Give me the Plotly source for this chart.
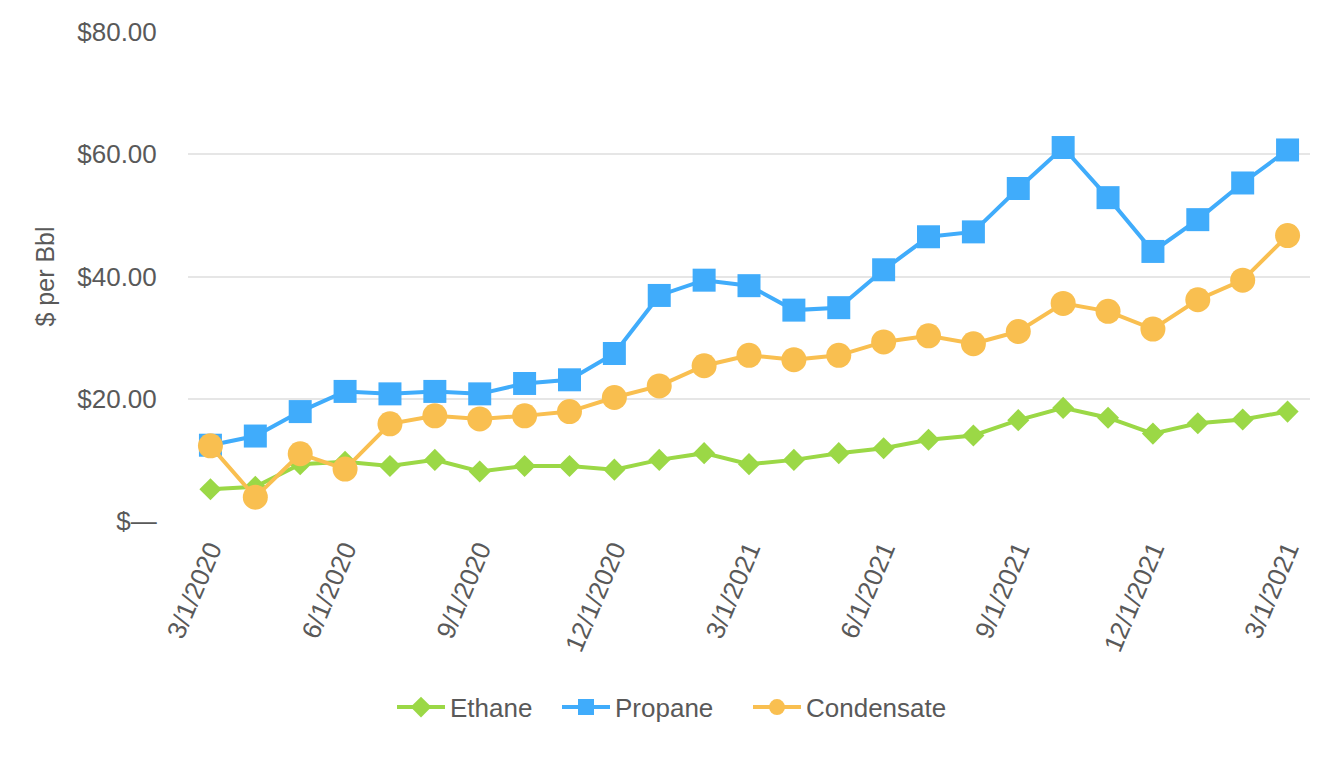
import plotly.graph_objects as go

months = ["3/1/2020", "4/1/2020", "5/1/2020", "6/1/2020", "7/1/2020", "8/1/2020",
          "9/1/2020", "10/1/2020", "11/1/2020", "12/1/2020", "1/1/2021", "2/1/2021",
          "3/1/2021", "4/1/2021", "5/1/2021", "6/1/2021", "7/1/2021", "8/1/2021",
          "9/1/2021", "10/1/2021", "11/1/2021", "12/1/2021", "1/1/2022", "2/1/2022",
          "3/1/2022"]

ethane = [5.2, 5.6, 9.3, 9.7, 9.0, 10.0, 8.1, 9.0, 9.0, 8.4, 10.0, 11.1,
          9.3, 10.0, 11.1, 11.9, 13.3, 14.0, 16.5, 18.5, 16.9, 14.3, 16.0, 16.6, 17.9]
propane = [12.4, 13.9, 17.9, 21.2, 20.8, 21.2, 20.8, 22.5, 23.1, 27.4, 36.9, 39.4,
           38.5, 34.5, 34.9, 41.1, 46.5, 47.3, 54.4, 61.1, 52.9, 44.1, 49.3, 55.3, 60.7]
condensate = [12.3, 3.9, 11.0, 8.5, 15.9, 17.2, 16.7, 17.2, 17.9, 20.2, 22.1, 25.4,
              27.1, 26.4, 27.1, 29.3, 30.3, 29.0, 31.0, 35.6, 34.3, 31.4, 36.2, 39.4, 46.7]

x_tick_vals = ["3/1/2020", "6/1/2020", "9/1/2020", "12/1/2020", "3/1/2021",
               "6/1/2021", "9/1/2021", "12/1/2021", "3/1/2022"]
x_tick_labels = ["3/1/2020", "6/1/2020", "9/1/2020", "12/1/2020", "3/1/2021",
                 "6/1/2021", "9/1/2021", "12/1/2021", "3/1/2021"]
y_tick_vals = [0, 20, 40, 60, 80]
y_tick_labels = ["$—", "$20.00", "$40.00", "$60.00", "$80.00"]

FONT = "Liberation Sans, Arial, Helvetica, sans-serif"
GRAY = "#595959"

fig = go.Figure()
fig.add_trace(go.Scatter(x=months, y=ethane, name="Ethane", mode="lines+markers",
                         legend="legend",
                         line=dict(color="#9bd846", width=4),
                         marker=dict(symbol="diamond", size=17, color="#9bd846")))
fig.add_trace(go.Scatter(x=months, y=propane, name="Propane", mode="lines+markers",
                         legend="legend2",
                         line=dict(color="#40acfb", width=4),
                         marker=dict(symbol="square", size=23, color="#40acfb")))
fig.add_trace(go.Scatter(x=months, y=condensate, name="Condensate", mode="lines+markers",
                         legend="legend3",
                         line=dict(color="#f9bf50", width=4),
                         marker=dict(symbol="circle", size=25, color="#f9bf50")))

def leg(x):
    return dict(orientation="h", xref="container", yref="container",
                x=x, xanchor="left", y=0.080, yanchor="middle",
                font=dict(size=26, color=GRAY), itemwidth=48,
                bgcolor="rgba(0,0,0,0)")

fig.update_layout(
    width=1340, height=760,
    paper_bgcolor="white", plot_bgcolor="white",
    margin=dict(l=180, r=38, t=24, b=247, autoexpand=False),
    font=dict(family=FONT, size=26, color=GRAY),
    showlegend=True,
    legend=leg(384 / 1340),
    legend2=leg(549 / 1340),
    legend3=leg(740 / 1340),
    xaxis=dict(type="category", categoryorder="array", categoryarray=months,
               range=[-0.5, len(months) - 0.5],
               tickmode="array", tickvals=x_tick_vals, ticktext=x_tick_labels,
               tickangle=-67, showgrid=False, showline=False, zeroline=False,
               ticks="outside", ticklen=2, tickcolor="rgba(0,0,0,0)",
               tickfont=dict(size=26, color=GRAY), automargin=False),
    yaxis=dict(range=[0, 80], tickmode="array", tickvals=y_tick_vals, ticktext=y_tick_labels,
               showgrid=True, gridcolor="#e6e6e6", gridwidth=2, zeroline=False,
               showline=False, ticks="outside", ticklen=25, tickcolor="rgba(0,0,0,0)",
               tickfont=dict(size=26, color=GRAY), automargin=False,
               title=dict(text="$ per Bbl", font=dict(size=25, color=GRAY), standoff=15)),
)

fig.write_html("out.html")
